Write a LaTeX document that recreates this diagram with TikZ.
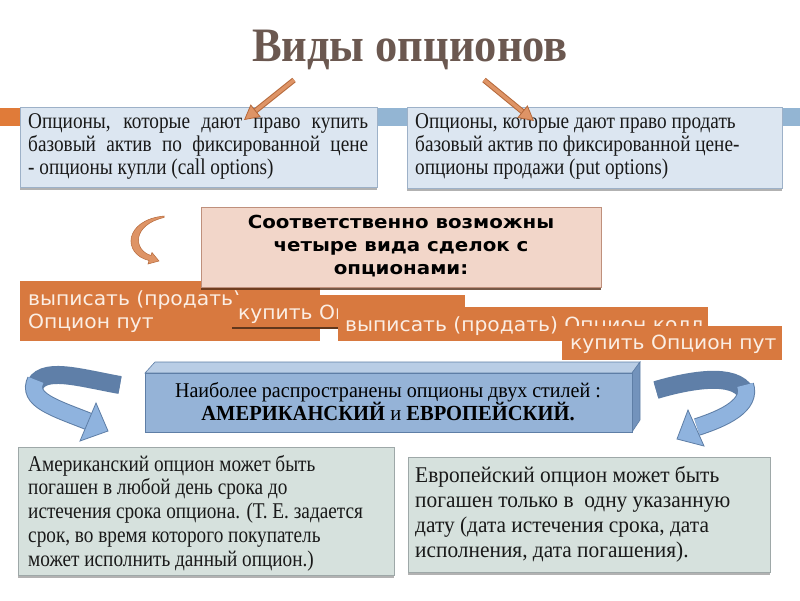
\documentclass[tikz,border=0pt]{standalone}
\usepackage{fontspec}
\setmainfont{Liberation Serif}
\newfontfamily\serc[FakeStretch=0.856]{Liberation Serif}
\newfontfamily\serw[FakeStretch=0.95]{Liberation Serif}
\newfontfamily\serb[FakeStretch=0.955]{Liberation Serif}
\newfontfamily\sert[FakeStretch=0.927]{Liberation Serif}
\newfontfamily\sns[FakeStretch=1.04]{DejaVu Sans}
\newfontfamily\snsb[FakeStretch=1.1]{DejaVu Sans}
\usetikzlibrary{arrows.meta,shadows,calc}
\definecolor{titlec}{HTML}{6B5850}
\definecolor{topfill}{HTML}{DCE6F1}
\definecolor{topdraw}{HTML}{9DB1C8}
\definecolor{orangec}{HTML}{D8793F}
\definecolor{otext}{HTML}{FBEEE4}
\definecolor{pinkfill}{HTML}{F2D6C9}
\definecolor{pinkdraw}{HTML}{BF907C}
\definecolor{bluefront}{HTML}{95B3D7}
\definecolor{bluetop}{HTML}{B9CDE5}
\definecolor{blueside}{HTML}{7393BC}
\definecolor{bluedraw}{HTML}{5E7EA6}
\definecolor{botfill}{HTML}{D6E1DD}
\definecolor{botdraw}{HTML}{9EA8A8}
\definecolor{arrowc}{HTML}{DE9466}
\definecolor{arrowdark}{HTML}{B5683A}
\definecolor{ribdark}{HTML}{5F7FA8}
\definecolor{riblight}{HTML}{8FB3DE}
\definecolor{barblue}{HTML}{93B5D3}
\definecolor{barorange}{HTML}{E07B39}
\begin{document}
\begin{tikzpicture}[x=1pt,y=-1pt,
  topbox/.style={draw=topdraw, fill=topfill, line width=0.8pt, anchor=north west, inner sep=0pt,
    drop shadow={shadow xshift=0pt, shadow yshift=-3pt, opacity=0.6, fill=gray}},
  obox/.style={fill=orangec, anchor=north west, inner sep=0pt},
  otxt/.style={text=otext, anchor=base west, inner sep=0pt, font=\sns\fontsize{19.5}{24}\selectfont},
  botbox/.style={draw=botdraw, fill=botfill, line width=0.8pt, anchor=north west, inner sep=0pt,
    drop shadow={shadow xshift=0pt, shadow yshift=-3pt, opacity=0.6, fill=gray}},
  ctxt/.style={font=\serc\fontsize{22.5}{23}\selectfont, text=black!90, anchor=base west, inner sep=0pt},
  wtxt/.style={font=\serw\fontsize{22.5}{23}\selectfont, text=black!90, anchor=base west, inner sep=0pt},
  shaftout/.style={draw=arrowdark, line width=5.5pt, shorten >=10pt},
  shaftin/.style={draw=arrowc, line width=3.5pt, shorten >=10pt},
  headtip/.style={draw=arrowdark, line width=0.8pt, -{Triangle[length=15pt,width=16pt,fill=arrowc]}},
]
\useasboundingbox (0,0) rectangle (800,600);
\fill[white] (0,0) rectangle (800,600);

% title
\node[font=\sert\bfseries\fontsize{48}{50}\selectfont, text=titlec] (title) at (410,50) {Виды опционов};

% side bars
\fill[barorange] (0,108) rectangle (20,126);
\fill[barblue] (377,108) rectangle (407,126);
\fill[barblue] (782,108) rectangle (800,126);

% top boxes
\node[topbox, minimum width=357pt, minimum height=80pt] (lbox) at (20,107) {};
\node[ctxt] (l1) at (28,128) {\makebox[340pt][s]{Опционы, которые дают право купить}};
\node[ctxt] (l2) at (28,151) {\makebox[340pt][s]{базовый актив по фиксированной цене}};
\node[ctxt] (l3) at (28,174) {- опционы купли (call options)};
\node[topbox, minimum width=375pt, minimum height=81pt] (rbox) at (407,107) {};
\node[ctxt] (r1) at (415,128) {Опционы, которые дают право продать};
\node[ctxt] (r2) at (415,151) {базовый актив по фиксированной цене-};
\node[ctxt] (r3) at (415,174) {опционы продажи (put options)};

% arrows from title
\coordinate (la) at (294,80);
\coordinate (lt) at (244,120);
\coordinate (ra) at (484,80);
\coordinate (rt) at (534,121);
\draw[shaftout] (la) -- (lt);
\draw[shaftin] (la) -- (lt);
\draw[headtip] ($(lt)!14pt!(la)$) -- (lt);
\draw[shaftout] (ra) -- (rt);
\draw[shaftin] (ra) -- (rt);
\draw[headtip] ($(rt)!14pt!(ra)$) -- (rt);

% small curved arrow (crescent)
\filldraw[fill=arrowc, draw=arrowdark, line width=0.5pt]
  (164,216) .. controls (124,220) and (122,254) .. (149,260.5)
  -- (148,264) -- (159,261) -- (152,252.5) -- (151,255.5)
  .. controls (133,250) and (132,225) .. (164,217.5) -- cycle;

% orange boxes
\node[obox, minimum width=300pt, minimum height=60pt] (o1) at (20,281) {};
\node[otxt] (o1a) at (28,305) {выписать (продать)};
\node[otxt] (o1b) at (28,328) {Опцион пут};
\node[draw=pinkdraw, fill=pinkfill, line width=0.8pt, anchor=north west, minimum width=400pt, minimum height=80pt,
  drop shadow={shadow xshift=0pt, shadow yshift=-3pt, opacity=0.8, fill=black!60!orangec}] (pink) at (201,207) {};
\node[font=\snsb\bfseries\fontsize{18}{23}\selectfont, align=center, inner sep=0pt] (pinkt) at (401,246)
  {Соответственно возможны\\четыре вида сделок с\\опционами:};
\node[obox, minimum width=233pt, minimum height=33pt] (o2) at (232,295) {};
\draw[black!55!orangec, line width=2pt] (232,328) -- (465,328);
\node[otxt] (o2t) at (238,319) {купить Опцион колл};
\node[obox, minimum width=370pt, minimum height=34pt] (o3) at (338,307) {};
\node[otxt] (o3t) at (345,331) {выписать (продать) Опцион колл};
\node[obox, minimum width=220pt, minimum height=34pt] (o4) at (562,326) {};
\node[otxt] (o4t) at (570,349) {купить Опцион пут};

% 3D blue box
\fill[bluetop, draw=bluedraw, line width=0.6pt] (145,373) -- (155,362) -- (640,362) -- (632,373) -- cycle;
\fill[blueside, draw=bluedraw, line width=0.6pt] (632,373) -- (640,362) -- (640,420) -- (632,432) -- cycle;
\node[fill=bluefront, draw=bluedraw, line width=0.6pt, anchor=north west, minimum width=487pt, minimum height=59pt] (bbox) at (145,373) {};
\node[font=\serb\fontsize{21}{23}\selectfont, anchor=base, inner sep=0pt] (bt1) at (388,397)
  {Наиболее распространены опционы двух стилей :};
\node[font=\serb\fontsize{21.5}{23}\selectfont, anchor=base, inner sep=0pt] (bt2) at (388,420)
  {\textbf{АМЕРИКАНСКИЙ} и \textbf{ЕВРОПЕЙСКИЙ.}};

% ribbon arrows
\coordinate (lra) at (120,385);
\coordinate (lrb) at (34,388);
\coordinate (lrc) at (90,422);
\draw[bluedraw, line width=18pt] (lra) .. controls (80,378) and (40,365) .. (lrb);
\draw[ribdark, line width=16pt] (lra) .. controls (80,378) and (40,365) .. (lrb);
\draw[bluedraw, line width=18pt] (36,380) .. controls (26,400) and (55,408) .. (lrc);
\draw[riblight, line width=16pt] (36,380) .. controls (26,400) and (55,408) .. (lrc);
\filldraw[fill=riblight, draw=bluedraw, line width=0.8pt] (96,403) -- (108,431) -- (80,441) -- cycle;

\coordinate (rra) at (656,390);
\coordinate (rrb) at (746,393);
\coordinate (rrc) at (697,427);
\draw[bluedraw, line width=18pt] (rra) .. controls (690,380) and (735,372) .. (rrb);
\draw[ribdark, line width=16pt] (rra) .. controls (690,380) and (735,372) .. (rrb);
\draw[bluedraw, line width=18pt] (745,385) .. controls (752,405) and (725,418) .. (rrc);
\draw[riblight, line width=16pt] (745,385) .. controls (752,405) and (725,418) .. (rrc);
\filldraw[fill=riblight, draw=bluedraw, line width=0.8pt] (688,410) -- (677,439) -- (704,446) -- cycle;

% bottom boxes
\node[botbox, minimum width=376pt, minimum height=128pt] (abox) at (18,447) {};
\node[ctxt] (a1) at (28,471) {Американский опцион может быть};
\node[ctxt] (a2) at (28,494) {погашен в любой день срока до};
\node[ctxt] (a3) at (28,518) {истечения срока опциона. (Т. Е. задается};
\node[ctxt] (a4) at (28,542) {срок, во время которого покупатель};
\node[ctxt] (a5) at (28,566) {может исполнить данный опцион.)};
\node[botbox, minimum width=362pt, minimum height=115pt] (ebox) at (408,457) {};
\node[wtxt] (e1) at (415,482) {Европейский опцион может быть};
\node[wtxt] (e2) at (415,507) {погашен только в\ \ одну указанную};
\node[wtxt] (e3) at (415,532) {дату (дата истечения срока, дата};
\node[wtxt] (e4) at (415,557) {исполнения, дата погашения).};
\end{tikzpicture}
\end{document}
